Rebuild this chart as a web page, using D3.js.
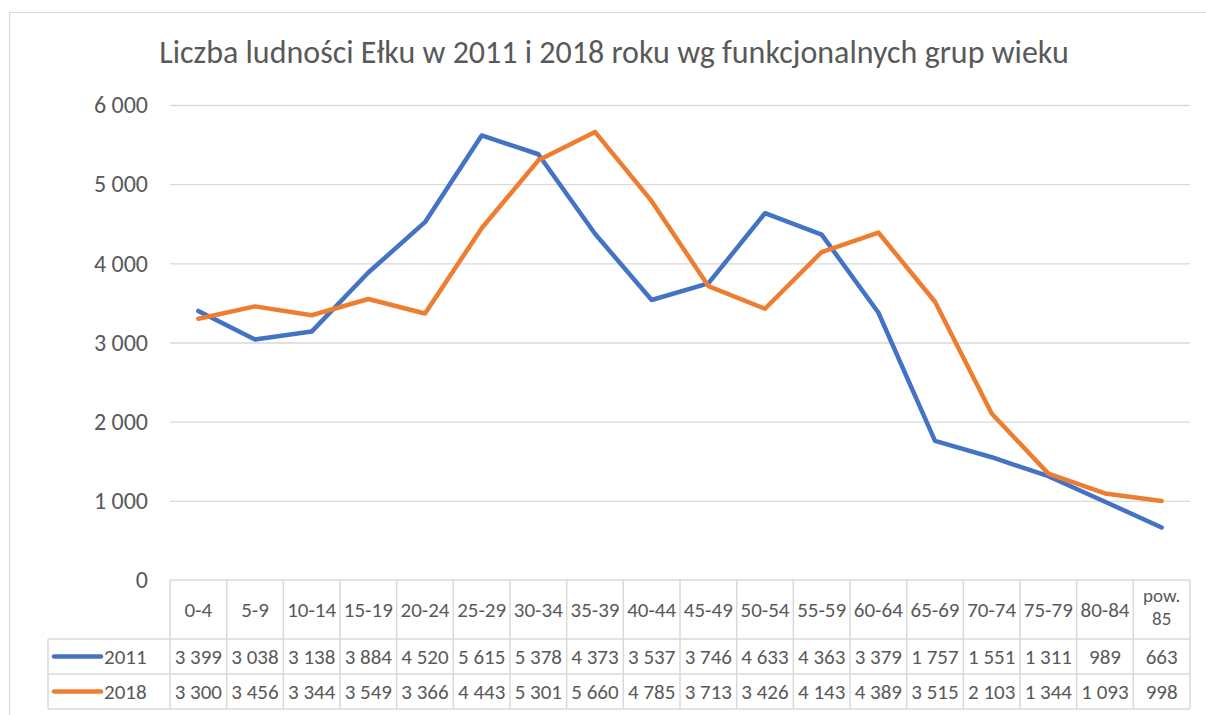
<!DOCTYPE html>
<html><head><meta charset="utf-8">
<script src="https://cdn.jsdelivr.net/npm/d3@7"></script>
<style>body{margin:0;background:#fff}svg{display:block}text{font-family:Carlito,Calibri,Lato,sans-serif}</style>
</head><body><svg id="c" width="1206" height="715"></svg>
<script>
const title = "Liczba ludności Ełku w 2011 i 2018 roku wg funkcjonalnych grup wieku";
const categories = ["0-4","5-9","10-14","15-19","20-24","25-29","30-34","35-39","40-44","45-49","50-54","55-59","60-64","65-69","70-74","75-79","80-84","pow. 85"];
const seriesNames = ["2011","2018"];
const values2011 = [3399,3038,3138,3884,4520,5615,5378,4373,3537,3746,4633,4363,3379,1757,1551,1311,989,663];
const values2018 = [3300,3456,3344,3549,3366,4443,5301,5660,4785,3713,3426,4143,4389,3515,2103,1344,1093,998];
const yTicks = [0,1000,2000,3000,4000,5000,6000];
const colors = ["#4472C4","#ED7D31"];

const svg = d3.select("#c");
const L = 170, R = 1190, T = 105, B = 580;
const x = d3.scaleBand().domain(categories).range([L, R]);
const y = d3.scaleLinear().domain([0, 6000]).range([B, T]);
const fmt = v => d3.format(",")(v).replace(/,/g, " ");
const textCol = "#595959", gridCol = "#d9d9d9";
const tableFont = 21;

// outer border
svg.append("rect").attr("x", 9.5).attr("y", 12.5).attr("width", 1210).attr("height", 720)
  .attr("fill", "none").attr("stroke", gridCol).attr("stroke-width", 1.2);

// title
svg.append("text").attr("x", 614).attr("y", 63).attr("text-anchor", "middle")
  .attr("font-size", 32).attr("fill", textCol).text(title);

// gridlines + y labels
const yAxis = d3.axisLeft(y).tickValues(yTicks).tickFormat(fmt).tickSize(-(R - L)).tickPadding(22);
const ga = svg.append("g").attr("transform", `translate(${L},0)`).call(yAxis);
ga.select(".domain").remove();
ga.selectAll(".tick line").attr("stroke", gridCol).attr("stroke-width", 1.3);
ga.selectAll(".tick text").attr("font-size", 24).attr("fill", textCol)
  .attr("font-family", "Carlito,Calibri,Lato,sans-serif");
ga.selectAll(".tick").filter(d => d === 0).select("line").remove();

// lines
const series = [values2011, values2018];
const line = d3.line().x((d, i) => x(categories[i]) + x.bandwidth() / 2).y(d => y(d));
series.forEach((vals, k) => {
  svg.append("path").datum(vals).attr("d", line).attr("fill", "none")
    .attr("stroke", colors[k]).attr("stroke-width", 4.5)
    .attr("stroke-linejoin", "round").attr("stroke-linecap", "round");
});

// data table
const hTop = 580, hBot = 639, r1Bot = 674, r2Bot = 709, legL = 48;
const tg = svg.append("g");
const hl = (x1, x2, yy) => tg.append("line").attr("x1", x1).attr("x2", x2).attr("y1", yy).attr("y2", yy)
  .attr("stroke", gridCol).attr("stroke-width", 1.5);
const vl = (xx, y1, y2) => tg.append("line").attr("x1", xx).attr("x2", xx).attr("y1", y1).attr("y2", y2)
  .attr("stroke", gridCol).attr("stroke-width", 1.5);
hl(L, R, hTop);
hl(legL, R, hBot);
hl(legL, R, r1Bot);
hl(legL, R, r2Bot);
vl(legL, hBot, r2Bot);
categories.forEach(c => vl(x(c), hTop, r2Bot));
vl(R, hTop, r2Bot);

// header labels
categories.forEach(c => {
  const cx = x(c) + x.bandwidth() / 2;
  const parts = c.split(" ");
  if (parts.length === 1) {
    tg.append("text").attr("x", cx).attr("y", 617).attr("text-anchor", "middle")
      .attr("font-size", tableFont).attr("fill", textCol).text(c);
  } else {
    parts.forEach((p, j) => {
      tg.append("text").attr("x", cx).attr("y", 602 + j * 23).attr("text-anchor", "middle")
        .attr("font-size", 19).attr("fill", textCol).text(p);
    });
  }
});

// rows
const rowMid = [(hBot + r1Bot) / 2, (r1Bot + r2Bot) / 2];
series.forEach((vals, k) => {
  const ym = rowMid[k];
  tg.append("line").attr("x1", 54).attr("x2", 101).attr("y1", ym).attr("y2", ym)
    .attr("stroke", colors[k]).attr("stroke-width", 4.5).attr("stroke-linecap", "round");
  tg.append("text").attr("x", 104).attr("y", ym + 7).attr("text-anchor", "start")
    .attr("font-size", tableFont).attr("fill", textCol).text(seriesNames[k]);
  vals.forEach((v, i) => {
    tg.append("text").attr("x", x(categories[i]) + x.bandwidth() / 2).attr("y", ym + 7)
      .attr("text-anchor", "middle").attr("font-size", tableFont).attr("fill", textCol).text(fmt(v));
  });
});
</script></body></html>
